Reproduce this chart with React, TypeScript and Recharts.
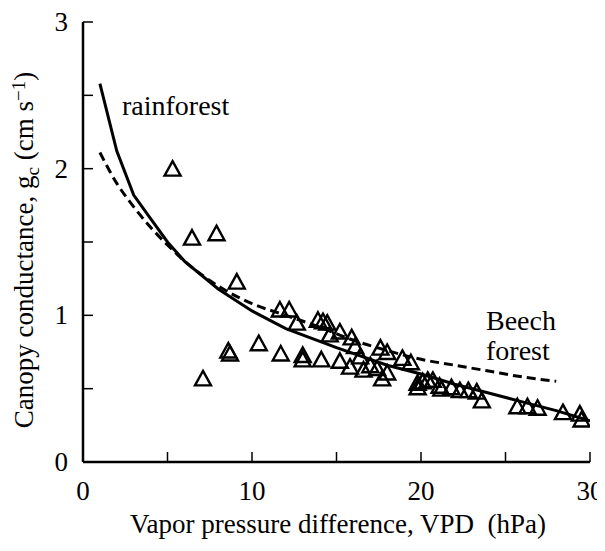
import React from "react";
import { ComposedChart, XAxis, YAxis, Line, Scatter } from "recharts";

const xTicks = [0, 5, 10, 15, 20, 25, 30];
const yTicks = [0, 0.5, 1, 1.5, 2, 2.5, 3];
const xLabelTicks = [0, 10, 20, 30];
const yLabelTicks = [0, 1, 2, 3];

const obsVpd = [
  5.3, 6.45, 7.9, 9.1, 11.65, 12.2, 12.65, 13.9, 14.2, 14.45, 14.6, 15.2, 15.9, 16.1, 16.4, 17.6, 18.0, 18.9, 19.4,
  7.1, 8.6, 8.7, 10.4, 11.7, 13.0, 13.0, 14.1, 15.2, 15.8, 16.6, 17.0, 17.4, 17.7, 18.0, 19.8, 19.8, 20.1, 20.4,
  20.7, 21.1, 21.2, 21.8, 22.3, 22.8, 23.3, 23.6, 25.7, 26.3, 26.9, 28.4, 29.4, 29.5,
];
const obsGc = [
  2.0, 1.53, 1.56, 1.23, 1.04, 1.04, 0.95, 0.97, 0.96, 0.95, 0.87, 0.89, 0.85, 0.79, 0.72, 0.78, 0.75, 0.71, 0.68,
  0.57, 0.76, 0.74, 0.81, 0.74, 0.73, 0.7, 0.7, 0.69, 0.65, 0.63, 0.66, 0.64, 0.57, 0.61, 0.54, 0.51, 0.55, 0.56,
  0.56, 0.52, 0.5, 0.51, 0.49, 0.49, 0.48, 0.42, 0.38, 0.38, 0.37, 0.34, 0.33, 0.29,
];

const rainVpd = [1, 2, 3, 4, 5, 6, 8, 10, 12, 15, 18, 20, 22, 24, 26, 28, 30];
const rainGc = [2.58, 2.12, 1.82, 1.66, 1.5, 1.37, 1.18, 1.03, 0.91, 0.78, 0.66, 0.6, 0.53, 0.47, 0.41, 0.35, 0.28];

const beechVpd = [1, 2, 3, 4, 5, 6, 8, 10, 12, 14, 16, 18, 20, 22, 24, 26, 28];
const beechGc = [2.11, 1.9, 1.74, 1.6, 1.48, 1.37, 1.2, 1.08, 1.0, 0.92, 0.83, 0.76, 0.7, 0.66, 0.62, 0.58, 0.55];

const obsData = obsVpd.map((x, i) => ({ x, y: obsGc[i] }));
const rainData = rainVpd.map((x, i) => ({ x, y: rainGc[i] }));
const beechData = beechVpd.map((x, i) => ({ x, y: beechGc[i] }));

const W = 597;
const H = 535;

const BottomTick = (p: any) => {
  const { x, y, payload } = p;
  return (
    <g>
      <line x1={x} x2={x} y1={y} y2={y - 10} stroke="#000" strokeWidth={1.5} />
      {xLabelTicks.includes(payload.value) && (
        <text x={x} y={y + 38} textAnchor="middle" fontSize={27} fill="#000">
          {payload.value}
        </text>
      )}
    </g>
  );
};
const TopTick = (p: any) => {
  const { x, y } = p;
  return <line x1={x} x2={x} y1={y} y2={y + 10} stroke="#000" strokeWidth={1.5} />;
};
const LeftTick = (p: any) => {
  const { x, y, payload } = p;
  return (
    <g>
      <line x1={x} x2={x + 10} y1={y} y2={y} stroke="#000" strokeWidth={1.5} />
      {yLabelTicks.includes(payload.value) && (
        <text x={x - 15} y={y + 9} textAnchor="end" fontSize={27} fill="#000">
          {payload.value}
        </text>
      )}
    </g>
  );
};
const RightTick = (p: any) => {
  const { x, y } = p;
  return <line x1={x} x2={x - 10} y1={y} y2={y} stroke="#000" strokeWidth={1.5} />;
};

const Triangle = (p: any) => {
  const { cx, cy } = p;
  if (cx == null || cy == null) return null;
  const d = `M${cx},${cy - 7.5} L${cx + 8},${cy + 7} L${cx - 8},${cy + 7} Z`;
  return <path d={d} fill="none" stroke="#000" strokeWidth={2.4} strokeLinejoin="miter" />;
};

export default function App() {
  return (
    <div style={{ position: "relative", width: W, height: H }}>
      <ComposedChart width={W} height={H} margin={{ top: 14, right: 15, left: 0, bottom: 0 }}>
        <XAxis
          xAxisId="b"
          type="number"
          dataKey="x"
          domain={[0, 30]}
          ticks={xTicks}
          allowDataOverflow
          height={81}
          tickSize={0}
          tickMargin={0}
          tick={<BottomTick />}
          axisLine={{ stroke: "#000", strokeWidth: 2.5 }}
        />
        <XAxis
          xAxisId="t"
          orientation="top"
          type="number"
          dataKey="x"
          domain={[0, 30]}
          ticks={xTicks}
          allowDataOverflow
          height={0}
          tickSize={0}
          tickMargin={0}
          tick={<TopTick />}
          axisLine={{ stroke: "#000", strokeWidth: 2.5 }}
        />
        <YAxis
          yAxisId="l"
          type="number"
          dataKey="y"
          domain={[0, 3]}
          ticks={yTicks}
          allowDataOverflow
          width={75}
          tickSize={0}
          tickMargin={0}
          tick={<LeftTick />}
          axisLine={{ stroke: "#000", strokeWidth: 2.5 }}
        />
        <YAxis
          yAxisId="r"
          orientation="right"
          type="number"
          dataKey="y"
          domain={[0, 3]}
          ticks={yTicks}
          allowDataOverflow
          width={0}
          tickSize={0}
          tickMargin={0}
          tick={<RightTick />}
          axisLine={{ stroke: "#000", strokeWidth: 2.5 }}
        />
        <Line
          xAxisId="b"
          yAxisId="l"
          data={beechData}
          dataKey="y"
          type="monotone"
          stroke="#000"
          strokeWidth={3}
          strokeDasharray="9 5"
          dot={false}
          activeDot={false}
          isAnimationActive={false}
        />
        <Line
          xAxisId="b"
          yAxisId="l"
          data={rainData}
          dataKey="y"
          type="linear"
          stroke="#000"
          strokeWidth={3}
          dot={false}
          activeDot={false}
          isAnimationActive={false}
        />
        <Scatter
          xAxisId="b"
          yAxisId="l"
          data={obsData}
          dataKey="y"
          shape={<Triangle />}
          isAnimationActive={false}
        />
      </ComposedChart>
      <svg
        width={W}
        height={H}
        style={{ position: "absolute", left: 0, top: 0, pointerEvents: "none" }}
        fill="#000"
      >
        <text x={330} y={525} textAnchor="middle" fontSize={27}>
          Vapor pressure difference, VPD{"\u00a0 "}(hPa)
        </text>
        <text x={25} y={242} textAnchor="middle" fontSize={27} transform="rotate(-90, 25, 242)">
          Canopy conductance, g
          <tspan fontSize={19} dy={6}>c</tspan>
          <tspan dy={-6}> (cm s</tspan>
          <tspan fontSize={19} dy={-8}>{"\u22121"}</tspan>
          <tspan dy={8}>)</tspan>
        </text>
        <text x={114} y={107} fontSize={28}>rainforest</text>
        <text x={478} y={322} fontSize={28}>Beech</text>
        <text x={478} y={352} fontSize={28}>forest</text>
      </svg>
    </div>
  );
}
